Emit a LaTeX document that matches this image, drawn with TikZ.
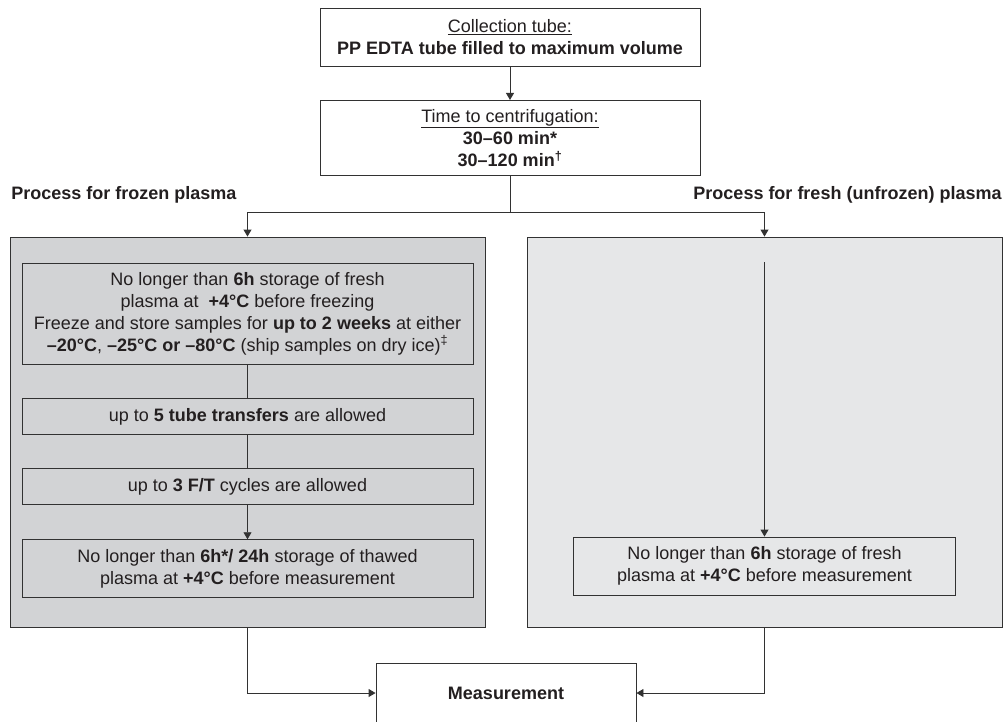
\documentclass[tikz,border=0pt]{standalone}
\usepackage{fontspec}
\setmainfont{Liberation Sans}
\usepackage{tikz}
\usetikzlibrary{arrows.meta}
\usetikzlibrary{positioning}
\definecolor{linegray}{RGB}{50,50,50}
\definecolor{frozengray}{RGB}{210,211,213}
\definecolor{freshgray}{RGB}{230,231,232}
\definecolor{inkgray}{RGB}{35,31,32}
\newcommand{\flowfont}{\fontsize{18}{22}\selectfont}
\tikzset{
    stepbox/.style={
           rectangle,
           draw=linegray, line width=0.9pt,
           inner sep=2pt,
           align=center,
           text=inkgray,
           font=\flowfont,
           },
    panel/.style={
           rectangle,
           draw=linegray, line width=0.9pt,
           minimum width=475pt,
           minimum height=390pt,
           },
    heading/.style={
           text=inkgray,
           font=\flowfont\bfseries,
           inner sep=0pt,
           },
}

\begin{document}
\begin{tikzpicture}[x=1pt,y=-1pt,>={Triangle[length=7pt,width=8pt]},line width=0.9pt]
 \useasboundingbox (0,0) rectangle (1005,721);
 \clip (0,0) rectangle (1005,721);
 % top of the flow
 \node[stepbox,
 fill=white,
 minimum width=380pt,
 minimum height=58pt] (collect) at (510,37.5)
 {\underline{Collection tube:}\\
  \textbf{PP EDTA tube filled to maximum volume}};
 \node[stepbox,
 fill=white,
 below=33pt of collect,
 minimum width=380pt,
 minimum height=75pt] (centri)
 {\underline{Time to centrifugation:}\\
  \textbf{30--60 min*}\\
  \textbf{30--120 min\textsuperscript{\textdagger}}};

 % the two processes
 \node[heading, anchor=west] (frozenlabel) at (11,195) {Process for frozen plasma};
 \node[heading, anchor=east] (freshlabel) at (1002,195) {Process for fresh (unfrozen) plasma};
 \node[panel, fill=frozengray] (frozen) at (247.5,432) {};
 \node[panel, fill=freshgray] (fresh) at (764.5,432) {};

 \node[stepbox,
 minimum width=451pt,
 minimum height=101pt] (freeze) at (247.5,313.5)
 {No longer than \textbf{6h} storage of fresh\\
  plasma at \ \textbf{+4°C} before freezing\\
  Freeze and store samples for \textbf{up to 2 weeks} at either\\
  \textbf{--20°C}, \textbf{--25°C or --80°C} (ship samples on dry ice)\textsuperscript{\textdaggerdbl}};
 \node[stepbox,
 below=34pt of freeze,
 minimum width=451pt,
 minimum height=36pt] (transfer)
 {up to \textbf{5 tube transfers} are allowed};
 \node[stepbox,
 below=33pt of transfer,
 minimum width=451pt,
 minimum height=36pt] (cycles)
 {up to \textbf{3 F/T} cycles are allowed};
 \node[stepbox,
 below=34pt of cycles,
 minimum width=451pt,
 minimum height=58pt] (thawed)
 {No longer than \textbf{6h*/ 24h} storage of thawed\\
  plasma at \textbf{+4°C} before measurement};

 \coordinate (freshstart) at (764.5,262);
 \node[stepbox,
 minimum width=382pt,
 minimum height=58pt] (freshstore) at (764.5,566)
 {No longer than \textbf{6h} storage of fresh\\
  plasma at \textbf{+4°C} before measurement};

 \node[stepbox,
 fill=white,
 minimum width=260pt,
 minimum height=60pt,
 font=\flowfont\bfseries] (measure) at (506,693)
 {Measurement};

 % draw the connectors
 \draw[->, linegray] (collect) -- (centri);
 \draw[linegray] (centri.south) -- ++(0,37) coordinate (split);
 \draw[->, linegray] (split) -| (frozen.north);
 \draw[->, linegray] (split) -| (fresh.north);
 \draw[linegray] (freeze) -- (transfer);
 \draw[linegray] (transfer) -- (cycles);
 \draw[->, linegray] (cycles) -- (thawed);
 \draw[->, linegray] (freshstart) -- (freshstore);
 \draw[->, linegray] (frozen.south) |- (measure.west);
 \draw[->, linegray] (fresh.south) |- (measure.east);
\end{tikzpicture}
\end{document}
